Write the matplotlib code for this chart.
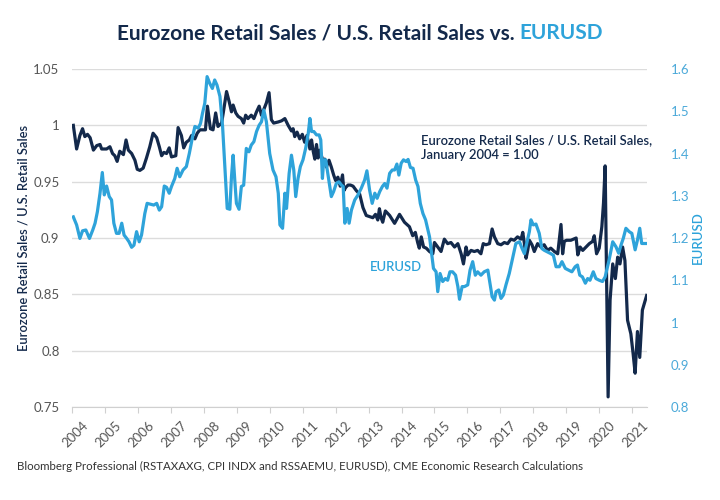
import numpy as np
import matplotlib
matplotlib.use("Agg")
import matplotlib.pyplot as plt
import matplotlib.transforms as mtransforms

plt.rcParams['font.family'] = ['Lato', 'DejaVu Sans']

NAVY = "#13294b"
TEAL = "#2ea3da"
TEAL_TXT = "#4ba9d9"
GREY = "#555555"

# Eurozone / U.S. retail sales ratio (Jan 2004 = 1.00), decimal year -> value
ratio_t = [2004.04, 2004.14, 2004.24, 2004.32, 2004.39, 2004.47, 2004.55, 2004.65, 2004.75, 2004.85,
           2004.90, 2005.05, 2005.15, 2005.23, 2005.30, 2005.37, 2005.45, 2005.56, 2005.64, 2005.71,
           2005.81, 2005.91, 2005.98, 2006.06, 2006.16, 2006.26, 2006.36, 2006.46, 2006.57, 2006.65,
           2006.72, 2006.79, 2006.87, 2006.95, 2007.02, 2007.15, 2007.22, 2007.32, 2007.39, 2007.47,
           2007.56, 2007.63, 2007.73, 2007.80, 2007.88, 2007.98, 2008.05, 2008.11, 2008.20, 2008.28,
           2008.36, 2008.43, 2008.54, 2008.59, 2008.69, 2008.77, 2008.84, 2008.89, 2008.97, 2009.04,
           2009.14, 2009.21, 2009.27, 2009.34, 2009.44, 2009.52, 2009.60, 2009.68, 2009.75, 2009.82,
           2009.90, 2009.98, 2010.05, 2010.12, 2010.26, 2010.36, 2010.46, 2010.56, 2010.66, 2010.71,
           2010.76, 2010.83, 2010.91, 2010.99, 2011.06, 2011.13, 2011.22, 2011.27, 2011.32, 2011.37,
           2011.42, 2011.47, 2011.52, 2011.57, 2011.62, 2011.67, 2011.72, 2011.80, 2011.87, 2011.94,
           2012.00, 2012.07, 2012.14, 2012.21, 2012.25, 2012.31, 2012.38, 2012.45, 2012.53, 2012.63,
           2012.73, 2012.83, 2012.93, 2013.13, 2013.21, 2013.28, 2013.33, 2013.38, 2013.43, 2013.51,
           2013.64, 2013.79, 2013.94, 2014.09, 2014.24, 2014.34, 2014.42, 2014.49, 2014.54, 2014.60,
           2014.67, 2014.75, 2014.85, 2014.95, 2015.00, 2015.10, 2015.20, 2015.30, 2015.40, 2015.50,
           2015.61, 2015.71, 2015.81, 2015.88, 2015.96, 2016.01, 2016.11, 2016.21, 2016.31, 2016.41,
           2016.48, 2016.56, 2016.67, 2016.75, 2016.82, 2016.92, 2017.02, 2017.12, 2017.22, 2017.32,
           2017.42, 2017.52, 2017.63, 2017.68, 2017.73, 2017.78, 2017.83, 2017.88, 2017.96, 2018.03,
           2018.13, 2018.23, 2018.33, 2018.43, 2018.53, 2018.64, 2018.74, 2018.84, 2018.89, 2018.94,
           2019.01, 2019.14, 2019.30, 2019.35, 2019.42, 2019.50, 2019.60, 2019.70, 2019.80, 2019.85,
           2019.92, 2020.00, 2020.08, 2020.13, 2020.18, 2020.23, 2020.27, 2020.33, 2020.41, 2020.49,
           2020.56, 2020.63, 2020.71, 2020.78, 2020.86, 2020.96, 2021.03, 2021.09, 2021.16, 2021.23,
           2021.31, 2021.44]
ratio_v = [1.000, 0.979, 0.991, 0.997, 0.990, 0.992, 0.989, 0.978, 0.982, 0.983,
           0.979, 0.979, 0.981, 0.975, 0.973, 0.968, 0.977, 0.974, 0.987, 0.978,
           0.975, 0.969, 0.961, 0.960, 0.962, 0.971, 0.981, 0.993, 0.989, 0.981,
           0.973, 0.976, 0.975, 0.980, 0.972, 0.973, 0.998, 0.991, 0.980, 0.985,
           0.987, 0.991, 0.988, 0.993, 0.996, 0.996, 0.996, 1.017, 0.997, 0.996,
           1.011, 0.999, 1.002, 1.011, 1.030, 1.021, 1.012, 1.018, 1.011, 1.008,
           1.006, 1.002, 1.009, 1.006, 1.009, 1.006, 1.012, 1.017, 1.009, 1.014,
           1.020, 1.029, 1.005, 1.002, 1.003, 1.004, 1.006, 1.000, 0.995, 0.997,
           0.990, 0.994, 0.988, 0.992, 0.985, 0.991, 0.979, 0.987, 0.977, 0.970,
           0.983, 0.971, 0.978, 0.973, 0.968, 0.970, 0.963, 0.969, 0.963, 0.956,
           0.951, 0.954, 0.946, 0.956, 0.942, 0.945, 0.947, 0.947, 0.946, 0.942,
           0.939, 0.927, 0.920, 0.918, 0.921, 0.916, 0.926, 0.918, 0.914, 0.924,
           0.920, 0.913, 0.921, 0.914, 0.910, 0.902, 0.905, 0.896, 0.891, 0.901,
           0.892, 0.891, 0.888, 0.886, 0.896, 0.892, 0.888, 0.899, 0.895, 0.896,
           0.892, 0.895, 0.886, 0.877, 0.892, 0.885, 0.889, 0.888, 0.889, 0.886,
           0.895, 0.894, 0.895, 0.908, 0.901, 0.895, 0.894, 0.896, 0.895, 0.899,
           0.898, 0.901, 0.899, 0.905, 0.895, 0.882, 0.889, 0.898, 0.894, 0.888,
           0.895, 0.892, 0.894, 0.889, 0.891, 0.888, 0.886, 0.912, 0.886, 0.897,
           0.898, 0.898, 0.900, 0.885, 0.892, 0.889, 0.892, 0.895, 0.897, 0.902,
           0.886, 0.891, 0.910, 0.931, 0.964, 0.851, 0.759, 0.845, 0.877, 0.864,
           0.883, 0.877, 0.892, 0.880, 0.827, 0.815, 0.797, 0.780, 0.817, 0.794,
           0.836, 0.849]

# EURUSD, decimal year -> value
fx_t = [2004.04, 2004.14, 2004.24, 2004.32, 2004.42, 2004.53, 2004.63, 2004.70, 2004.77, 2004.85,
        2004.92, 2004.98, 2005.05, 2005.13, 2005.20, 2005.27, 2005.35, 2005.43, 2005.51, 2005.58,
        2005.66, 2005.73, 2005.81, 2005.88, 2005.96, 2006.04, 2006.11, 2006.21, 2006.28, 2006.38,
        2006.48, 2006.57, 2006.65, 2006.72, 2006.80, 2006.87, 2006.95, 2007.02, 2007.12, 2007.19,
        2007.27, 2007.37, 2007.47, 2007.56, 2007.66, 2007.73, 2007.83, 2007.90, 2007.96, 2008.03,
        2008.10, 2008.18, 2008.26, 2008.33, 2008.40, 2008.49, 2008.57, 2008.64, 2008.71, 2008.79,
        2008.84, 2008.89, 2008.94, 2008.99, 2009.07, 2009.14, 2009.21, 2009.29, 2009.37, 2009.44,
        2009.52, 2009.60, 2009.68, 2009.75, 2009.82, 2009.90, 2010.00, 2010.10, 2010.19, 2010.26,
        2010.31, 2010.39, 2010.46, 2010.51, 2010.59, 2010.66, 2010.73, 2010.79, 2010.86, 2010.93,
        2011.01, 2011.09, 2011.17, 2011.22, 2011.27, 2011.34, 2011.42, 2011.50, 2011.55, 2011.60,
        2011.64, 2011.70, 2011.77, 2011.87, 2011.94, 2012.02, 2012.10, 2012.18, 2012.23, 2012.28,
        2012.35, 2012.41, 2012.48, 2012.58, 2012.68, 2012.78, 2012.88, 2012.95, 2013.03, 2013.11,
        2013.19, 2013.26, 2013.34, 2013.42, 2013.49, 2013.56, 2013.64, 2013.72, 2013.79, 2013.86,
        2013.92, 2013.99, 2014.06, 2014.14, 2014.20, 2014.27, 2014.35, 2014.43, 2014.50, 2014.57,
        2014.65, 2014.73, 2014.80, 2014.85, 2014.90, 2014.97, 2015.05, 2015.10, 2015.17, 2015.25,
        2015.33, 2015.40, 2015.47, 2015.55, 2015.64, 2015.71, 2015.76, 2015.84, 2015.91, 2016.01,
        2016.08, 2016.16, 2016.24, 2016.31, 2016.41, 2016.51, 2016.62, 2016.67, 2016.75, 2016.82,
        2016.87, 2016.95, 2017.02, 2017.09, 2017.17, 2017.27, 2017.37, 2017.47, 2017.58, 2017.66,
        2017.73, 2017.80, 2017.88, 2017.93, 2018.00, 2018.08, 2018.18, 2018.26, 2018.33, 2018.43,
        2018.53, 2018.61, 2018.69, 2018.79, 2018.87, 2018.97, 2019.07, 2019.17, 2019.27, 2019.34,
        2019.41, 2019.49, 2019.58, 2019.65, 2019.72, 2019.82, 2019.90, 2020.00, 2020.10, 2020.18,
        2020.30, 2020.41, 2020.51, 2020.59, 2020.66, 2020.73, 2020.81, 2020.91, 2020.99, 2021.09,
        2021.16, 2021.23, 2021.29, 2021.39, 2021.44]
fx_v = [1.250, 1.231, 1.199, 1.217, 1.219, 1.199, 1.219, 1.235, 1.262, 1.306,
        1.355, 1.302, 1.323, 1.298, 1.290, 1.235, 1.211, 1.211, 1.235, 1.207,
        1.199, 1.191, 1.178, 1.183, 1.215, 1.191, 1.207, 1.258, 1.282, 1.280,
        1.278, 1.282, 1.266, 1.274, 1.323, 1.320, 1.306, 1.322, 1.341, 1.365,
        1.345, 1.361, 1.369, 1.400, 1.440, 1.464, 1.460, 1.471, 1.495, 1.519,
        1.582, 1.566, 1.554, 1.574, 1.562, 1.535, 1.464, 1.369, 1.270, 1.268,
        1.345, 1.396, 1.337, 1.282, 1.268, 1.322, 1.325, 1.412, 1.404, 1.420,
        1.428, 1.452, 1.467, 1.475, 1.503, 1.475, 1.400, 1.361, 1.345, 1.306,
        1.231, 1.223, 1.306, 1.270, 1.353, 1.396, 1.361, 1.298, 1.341, 1.369,
        1.385, 1.412, 1.448, 1.483, 1.452, 1.452, 1.444, 1.444, 1.432, 1.341,
        1.385, 1.385, 1.349, 1.298, 1.310, 1.329, 1.333, 1.325, 1.322, 1.235,
        1.270, 1.235, 1.266, 1.290, 1.302, 1.318, 1.337, 1.359, 1.314, 1.282,
        1.306, 1.294, 1.310, 1.322, 1.329, 1.318, 1.353, 1.361, 1.361, 1.375,
        1.349, 1.377, 1.385, 1.381, 1.386, 1.367, 1.365, 1.337, 1.322, 1.282,
        1.258, 1.243, 1.219, 1.203, 1.171, 1.128, 1.120, 1.073, 1.116, 1.097,
        1.104, 1.100, 1.120, 1.120, 1.112, 1.085, 1.055, 1.085, 1.085, 1.089,
        1.124, 1.144, 1.112, 1.120, 1.112, 1.120, 1.124, 1.100, 1.061, 1.053,
        1.073, 1.077, 1.057, 1.065, 1.089, 1.116, 1.152, 1.187, 1.191, 1.175,
        1.163, 1.187, 1.215, 1.243, 1.231, 1.233, 1.211, 1.175, 1.171, 1.167,
        1.163, 1.159, 1.132, 1.132, 1.144, 1.128, 1.124, 1.120, 1.132, 1.136,
        1.112, 1.108, 1.093, 1.104, 1.100, 1.120, 1.104, 1.100, 1.097, 1.108,
        1.148, 1.191, 1.179, 1.164, 1.183, 1.199, 1.223, 1.215, 1.211, 1.172,
        1.195, 1.223, 1.187, 1.187, 1.187]

years = list(range(2004, 2022))
left_ticks = [0.75, 0.8, 0.85, 0.9, 0.95, 1.0, 1.05]
right_ticks = [0.8, 0.9, 1.0, 1.1, 1.2, 1.3, 1.4, 1.5, 1.6]

fig = plt.figure(figsize=(7.2, 5.0), dpi=100)
ax = fig.add_axes([0.1, 0.186, 0.7986, 0.676])
ax2 = ax.twinx()

ax.plot(ratio_t, ratio_v, color=NAVY, lw=2.3, solid_joinstyle='round', zorder=3)
ax2.plot(fx_t, fx_v, color=TEAL, lw=2.3, solid_joinstyle='round', zorder=3)

ax.set_xlim(2004.0, 2021.45)
ax.set_ylim(0.75, 1.05)
ax2.set_ylim(0.8, 1.6)

ax.set_yticks(left_ticks)
ax.set_yticklabels([f"{v:g}" for v in left_ticks])
ax2.set_yticks(right_ticks)
ax2.set_yticklabels([f"{v:g}" for v in right_ticks])
ax.grid(axis='y', color='#dcdcdc', lw=1)
ax.set_axisbelow(True)

for a in (ax, ax2):
    for s in ('top', 'right', 'left', 'bottom'):
        a.spines[s].set_visible(False)
ax.spines['bottom'].set_visible(True)
ax.spines['bottom'].set_color('#d0d0d0')

ax.tick_params(axis='y', length=0, pad=9, labelsize=9.5, labelcolor=GREY)
ax2.tick_params(axis='y', length=0, pad=17, labelsize=9.5, labelcolor=TEAL_TXT)

ax.set_xticks(years)
ax.set_xticklabels([str(y) for y in years], rotation=45, ha='right', va='center',
                   rotation_mode='anchor')
ax.tick_params(axis='x', length=4, color='#d0d0d0', pad=4, labelsize=9.5, labelcolor=GREY)
off = mtransforms.ScaledTranslation(10 / 72, -4 / 72, fig.dpi_scale_trans)
for lab in ax.get_xticklabels():
    lab.set_transform(lab.get_transform() + off)

ax.set_ylabel("Eurozone Retail Sales / U.S. Retail Sales", color=NAVY, fontsize=9.3,
              fontweight='semibold', labelpad=3)
ax2.set_ylabel("EURUSD", color=TEAL, fontsize=9.5, fontweight='semibold', labelpad=2)

ax.text(2014.6, 0.980, "Eurozone Retail Sales / U.S. Retail Sales,\nJanuary 2004 = 1.00",
        color=NAVY, fontsize=9.4, fontweight='semibold', va='center', ha='left',
        linespacing=1.25, zorder=5)
ax.text(2013.03, 0.874, "EURUSD", color=TEAL, fontsize=9.4, fontweight='semibold',
        va='center', ha='left', zorder=5)

# two-colour title
t1 = fig.text(0, 0.934, "Eurozone Retail Sales / U.S. Retail Sales vs.\u00a0", color=NAVY,
              fontsize=15, fontweight='bold', va='center', ha='left')
t2 = fig.text(0, 0.934, "EURUSD", color=TEAL, fontsize=15, fontweight='bold',
              va='center', ha='left')
r = fig.canvas.get_renderer()
w1 = t1.get_window_extent(r).width
w2 = t2.get_window_extent(r).width
W = fig.bbox.width
x0 = (W - (w1 + w2)) / 2
t1.set_x(x0 / W)
t2.set_x((x0 + w1) / W)

fig.text(17 / 720, 1 - 466 / 500,
         "Bloomberg Professional (RSTAXAXG, CPI INDX and RSSAEMU, EURUSD), CME Economic Research Calculations",
         color='#333333', fontsize=8.3, va='center', ha='left')

fig.savefig("out.png", dpi=100, facecolor='white')
